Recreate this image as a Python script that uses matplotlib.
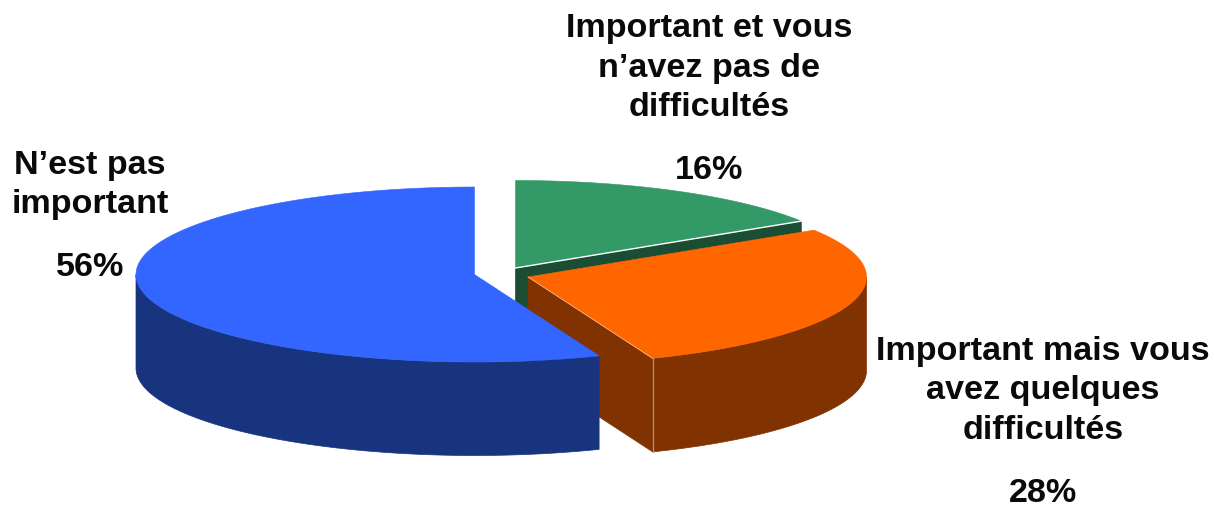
import numpy as np
import matplotlib
matplotlib.use("Agg")
import matplotlib.pyplot as plt
from matplotlib.patches import Polygon

# ---- data ----
categories = ["N’est pas\nimportant",
              "Important mais vous\navez quelques\ndifficultés",
              "Important et vous\nn’avez pas de\ndifficultés"]
shares = [56, 28, 16]
percent_labels = ["56%", "28%", "16%"]

# ---- style / layout (pixel space) ----
top_colors = ["#3366FF", "#FF6600", "#339966"]
side_colors = ["#18347F", "#803300", "#1A4D33"]
apexes = [(474.5, 275.5), (528, 278), (515.5, 269)]
RX, RY, DEPTH = 338.5, 87.5, 93.5
name_pos = [(90, 185), (1043, 391), (709, 68)]
pct_pos = [(90, 267), (1043, 494), (709, 170)]

W, H = 1214, 506
fig = plt.figure(figsize=(W / 100, H / 100), dpi=100)
ax = fig.add_axes([0, 0, 1, 1])
ax.set_xlim(0, W)
ax.set_ylim(H, 0)
ax.axis("off")


def rim(apex, a0, a1, drop=0.0):
    t = np.radians(np.linspace(a0, a1, max(2, int(abs(a1 - a0) * 2))))
    return np.column_stack([apex[0] + RX * np.cos(t),
                            apex[1] - RY * np.sin(t) + drop])


# slice angles from the shares, running counter-clockwise from 12 o'clock
bounds = 90 + 3.6 * np.cumsum([0] + shares)
slices = [(i, bounds[i], bounds[i + 1]) for i in range(len(shares))]

for i, a0, a1 in [slices[2], slices[1], slices[0]]:
    apex = apexes[i]
    z = {0: 3, 1: 2, 2: 1}[i]
    # outer wall: only the front half of the rim (180-360 deg)
    lo, hi = max(a0, 180), min(a1, 360)
    if hi > lo:
        up = rim(apex, lo, hi)
        down = rim(apex, lo, hi, DEPTH)[::-1]
        ax.add_patch(Polygon(np.vstack([up, down]), closed=True,
                             fc=side_colors[i], ec=side_colors[i], lw=0.5, zorder=z))
    # cut faces turned towards the viewer
    if i == 1:
        p = rim(apex, a0, a0)[0]
        ax.add_patch(Polygon([apex, p, (p[0], p[1] + DEPTH), (apex[0], apex[1] + DEPTH)],
                             closed=True, fc=side_colors[i], ec=side_colors[i], lw=0.5, zorder=z))
        ax.plot([p[0], p[0]], [p[1], p[1] + DEPTH], color="#B98E72", lw=0.9, zorder=z + 0.5)
        ax.plot([apex[0], p[0]], [apex[1], p[1]], color="#FFC9A0", lw=0.5, zorder=z + 0.5)
    if i == 2:
        p = rim(apex, a0, a0)[0]
        ax.add_patch(Polygon([apex, p, (p[0], p[1] + DEPTH), (apex[0], apex[1] + DEPTH)],
                             closed=True, fc=side_colors[i], ec=side_colors[i], lw=0.5, zorder=z))
    # top face
    top = np.vstack([[apex], rim(apex, a0, a1)])
    ax.add_patch(Polygon(top, closed=True, fc=top_colors[i], ec=top_colors[i], lw=0.4, zorder=z + 0.2))
    if i == 2:
        p = rim(apex, a0, a0)[0]
        ax.plot([apex[0], p[0]], [apex[1], p[1]], color="white", lw=1.0, zorder=z + 0.5)

font = dict(family="Liberation Sans", fontweight="bold", fontsize=24.6,
            color="#0a0a0a", ha="center", va="center", zorder=10)
for name, pct, np_, pp in zip(categories, percent_labels, name_pos, pct_pos):
    ax.text(np_[0], np_[1], name, linespacing=1.37, **font)
    ax.text(pp[0], pp[1], pct, **font)

fig.savefig("out.png", dpi=100, facecolor="white")
